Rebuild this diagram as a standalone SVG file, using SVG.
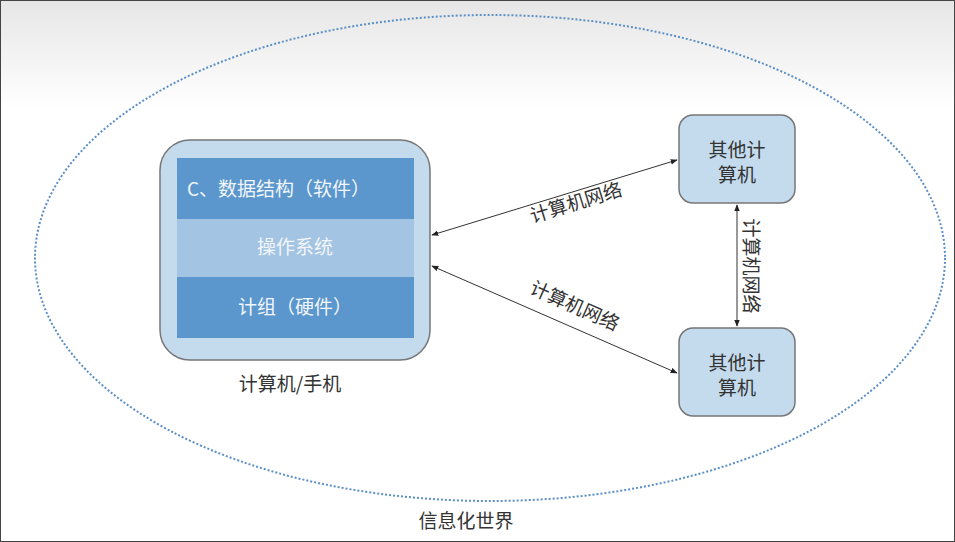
<svg xmlns="http://www.w3.org/2000/svg" width="955" height="542" viewBox="0 0 955 542">
<defs>
<linearGradient id="bg" x1="0" y1="0" x2="0" y2="1">
<stop offset="0" stop-color="#e6e6e6"/><stop offset="0.2" stop-color="#ffffff"/><stop offset="1" stop-color="#ffffff"/>
</linearGradient>
<marker id="ah" viewBox="0 0 10 10" refX="9" refY="5" markerWidth="7" markerHeight="7" orient="auto-start-reverse" markerUnits="userSpaceOnUse"><path d="M0,1 L10,5 L0,9 z" fill="#222"/></marker>
<style>
text{font-family:"Noto Sans CJK SC","Liberation Sans",sans-serif;}
.lbl{font-size:19px;fill:#333;}
.w{font-size:19px;fill:#f2f6fb;}
.box{fill:#c4dbee;stroke:#777;stroke-width:1.5;}
.c{stroke:#333;stroke-width:1;fill:none;}
</style>
</defs>
<rect width="955" height="542" fill="url(#bg)"/>
<rect x="0.5" y="0.5" width="954" height="541" fill="none" stroke="#444" stroke-width="1"/>
<ellipse cx="490" cy="258" rx="455" ry="243" fill="none" stroke="#5b8fc7" stroke-width="2" stroke-dasharray="2,2"/>
<g id="computer">
<rect class="box" x="160" y="140" width="270" height="220" rx="30"/>
<rect x="177" y="158" width="237" height="61" fill="#5b97cd"/>
<rect x="177" y="219" width="237" height="58" fill="#a3c4e2"/>
<rect x="177" y="277" width="237" height="61" fill="#5b97cd"/>
<text class="w" x="187" y="196">C、数据结构（软件）</text>
<text class="w" x="295" y="254" text-anchor="middle">操作系统</text>
<text class="w" x="295" y="314" text-anchor="middle">计组（硬件）</text>
<text class="lbl" x="290" y="391" text-anchor="middle">计算机/手机</text>
</g>
<g id="other1">
<rect class="box" x="679" y="115" width="116" height="88" rx="14"/>
<text class="lbl" x="737" y="157" text-anchor="middle">其他计</text>
<text class="lbl" x="737" y="182" text-anchor="middle">算机</text>
</g>
<g id="other2">
<rect class="box" x="679" y="328" width="116" height="88" rx="14"/>
<text class="lbl" x="737" y="370" text-anchor="middle">其他计</text>
<text class="lbl" x="737" y="395" text-anchor="middle">算机</text>
</g>
<g id="connectors">
<line class="c" x1="432" y1="235" x2="677" y2="160" marker-start="url(#ah)" marker-end="url(#ah)"/>
<line class="c" x1="432" y1="266" x2="677" y2="373" marker-start="url(#ah)" marker-end="url(#ah)"/>
<line class="c" x1="737" y1="205" x2="737" y2="326" marker-start="url(#ah)" marker-end="url(#ah)"/>
<text class="lbl" transform="translate(578,209) rotate(-17)" text-anchor="middle">计算机网络</text>
<text class="lbl" transform="translate(572,312) rotate(24)" text-anchor="middle">计算机网络</text>
<text class="lbl" transform="translate(744,266) rotate(90)" text-anchor="middle">计算机网络</text>
</g>
<text class="lbl" x="466" y="528" text-anchor="middle">信息化世界</text>
</svg>
